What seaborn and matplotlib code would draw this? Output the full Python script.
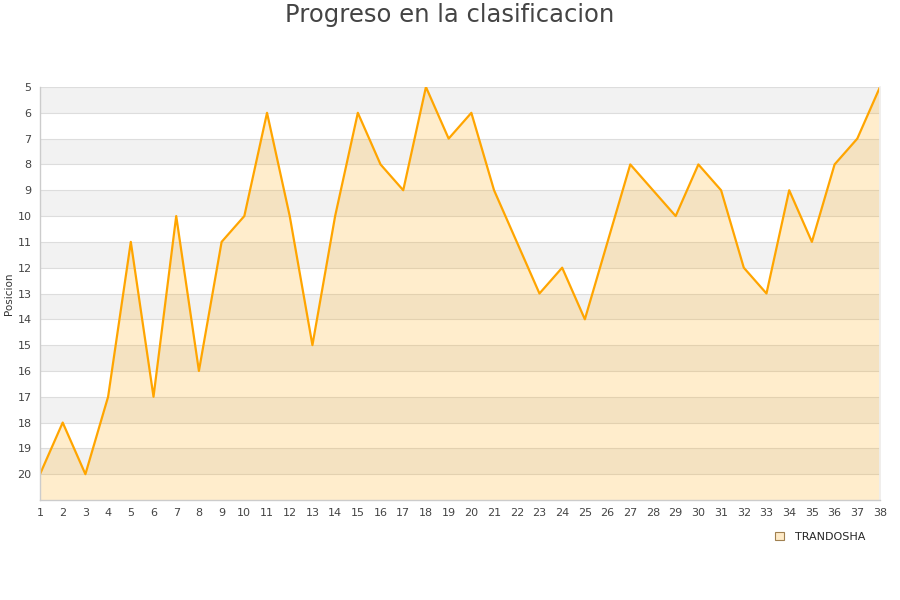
import matplotlib
matplotlib.use("Agg")
import matplotlib.pyplot as plt
import seaborn as sns
import pandas as pd
from matplotlib.patches import Patch

rounds = list(range(1, 39))
positions = [20, 18, 20, 17, 11, 17, 10, 16, 11, 10, 6, 10, 15, 10, 6, 8, 9, 5, 7, 6,
             9, 11, 13, 12, 14, 11, 8, 9, 10, 8, 9, 12, 13, 9, 11, 8, 7, 5]
team = "TRANDOSHA"
title = "Progreso en la clasificacion"
ylabel = "Posicion"

df = pd.DataFrame({"Jornada": rounds, "Posicion": positions})

sns.set_theme(style="white")
plt.rcParams['font.family'] = ['DejaVu Sans']

fig = plt.figure(figsize=(9, 6), dpi=100)
ax = fig.add_axes([40/900, 1-500/600, 840/900, 413/600])

ymin, ymax = 5, 21
for y in range(ymin, ymax, 2):
    ax.axhspan(y, y+1, color="#f2f2f2", zorder=0, lw=0)
for y in range(ymin, ymax):
    ax.axhline(y, color="#dddddd", lw=0.8, zorder=0.5)

ax.fill_between(df["Jornada"], df["Posicion"], ymax, color="#ffa500", alpha=0.2, lw=0, zorder=1)
sns.lineplot(data=df, x="Jornada", y="Posicion", color="#ffa500", lw=1.6, ax=ax, zorder=2)

ax.set_xlim(1, 38)
ax.set_ylim(ymax, ymin)
ax.set_xticks(rounds)
ax.set_yticks(list(range(5, 21)))
ax.tick_params(axis="both", labelsize=8, colors="#444444", length=0, pad=6)
ax.set_xlabel("")
ax.set_ylabel(ylabel, fontsize=7.5, color="#333333")
ax.yaxis.set_label_coords(-26/840, 0.5)
ax.spines["top"].set_visible(False)
for s in ["left", "bottom"]:
    ax.spines[s].set_color("#cccccc")
    ax.spines[s].set_linewidth(1)
ax.spines["right"].set_color("#eeeeee")

fig.suptitle(title, fontsize=17.5, color="#444444", y=0.995)

handle = Patch(facecolor="#ffebc8", edgecolor="#a08050", lw=0.8)
fig.legend([handle], [team], loc="center left", bbox_to_anchor=(765/900, 1-537/600),
           frameon=False, fontsize=8, handlelength=0.8, handleheight=0.8, handletextpad=1.0)

fig.savefig("out.png", dpi=100)
